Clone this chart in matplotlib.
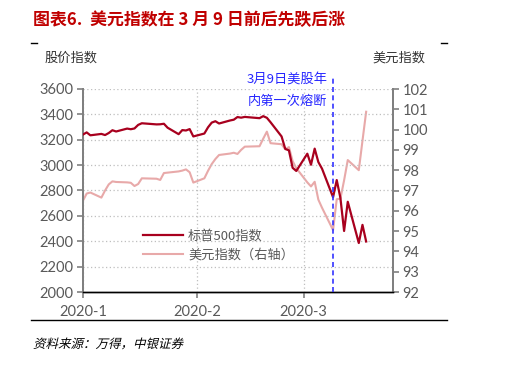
import matplotlib
matplotlib.use("Agg")
import matplotlib.pyplot as plt
import pandas as pd
from matplotlib.font_manager import FontProperties
from matplotlib.patches import PathPatch
from matplotlib.textpath import TextPath
from matplotlib.transforms import Affine2D

plt.rcParams['font.family'] = ['Lato', 'Noto Sans CJK SC', 'DejaVu Sans']

# trading days (Jan 1 carries the Dec 31 close)
dates = pd.to_datetime([
    '2020-01-01', '2020-01-02', '2020-01-03', '2020-01-06', '2020-01-07', '2020-01-08',
    '2020-01-09', '2020-01-10', '2020-01-13', '2020-01-14', '2020-01-15', '2020-01-16',
    '2020-01-17', '2020-01-21', '2020-01-22', '2020-01-23', '2020-01-24', '2020-01-27',
    '2020-01-28', '2020-01-29', '2020-01-30', '2020-01-31',
    '2020-02-03', '2020-02-04', '2020-02-05', '2020-02-06', '2020-02-07', '2020-02-10',
    '2020-02-11', '2020-02-12', '2020-02-13', '2020-02-14', '2020-02-18', '2020-02-19',
    '2020-02-20', '2020-02-21', '2020-02-24', '2020-02-25', '2020-02-26', '2020-02-27',
    '2020-02-28',
    '2020-03-02', '2020-03-03', '2020-03-04', '2020-03-05', '2020-03-06', '2020-03-09',
    '2020-03-10', '2020-03-11', '2020-03-12', '2020-03-13', '2020-03-16', '2020-03-17',
    '2020-03-18',
])

spx = [
    3241, 3258, 3235, 3246, 3237, 3253, 3275, 3265, 3288, 3283, 3289, 3317,
    3330, 3321, 3322, 3326, 3295, 3244, 3276, 3273, 3284, 3226,
    3249, 3298, 3335, 3346, 3328, 3352, 3358, 3379, 3374, 3380, 3370, 3386,
    3373, 3338, 3226, 3128, 3116, 2979, 2954,
    3090, 3003, 3130, 3024, 2972, 2747, 2882, 2741, 2481, 2711, 2386, 2529,
    2398,
]

dxy = [
    96.50, 96.85, 96.90, 96.65, 97.00, 97.30, 97.45, 97.42, 97.40, 97.38, 97.22, 97.32,
    97.60, 97.58, 97.52, 97.86, 97.88, 97.94, 97.98, 98.04, 97.90, 97.39,
    97.60, 97.97, 98.30, 98.55, 98.75, 98.82, 98.86, 98.80, 99.00, 99.16, 99.18, 99.55,
    99.90, 99.33, 99.28, 99.03, 99.14, 98.45, 98.10,
    97.40, 97.20, 97.43, 96.55, 96.15, 95.05, 96.57, 96.60, 97.50, 98.50, 98.00, 99.45,
    100.88,
]

month_ticks = pd.to_datetime(['2020-01-01', '2020-02-01', '2020-03-01'])
month_labels = ['2020-1', '2020-2', '2020-3']
breaker_day = pd.Timestamp('2020-03-09')

red = '#A8001E'
pink = '#E8A9A9'
grey = '#595959'
cjk = ['Noto Sans CJK SC', 'DejaVu Sans']
W, H, DPI = 519, 365, 100

fig = plt.figure(figsize=(W / DPI, H / DPI), dpi=DPI)
ax = fig.add_axes([83 / W, 73 / H, 310 / W, 203 / H])
ax2 = ax.twinx()

l1, = ax.plot(dates, spx, color=red, lw=1.6, zorder=3)
l2, = ax2.plot(dates, dxy, color=pink, lw=1.5, zorder=2)
ax.set_zorder(ax2.get_zorder() + 1)
ax.patch.set_visible(False)

ax.set_xlim(pd.Timestamp('2020-01-01'), pd.Timestamp('2020-01-01') + pd.Timedelta(days=84.3))
ax.set_ylim(2000, 3600)
ax.set_yticks(range(2000, 3601, 200))
ax2.set_ylim(92, 102)
ax2.set_yticks(range(92, 103))
ax.set_xticks(month_ticks)
ax.set_xticklabels(month_labels)

ax.grid(True, color='#BFBFBF', linestyle=(0, (1, 2)), linewidth=0.9)
ax.set_axisbelow(True)

for a in (ax, ax2):
    a.spines['top'].set_visible(False)
    a.spines['left'].set_color('#808080')
    a.spines['right'].set_color('#808080')
    a.spines['left'].set_linewidth(1.4)
    a.spines['right'].set_linewidth(1.4)
    a.spines['bottom'].set_color('#000000')
    a.spines['bottom'].set_linewidth(1.0)
    a.tick_params(labelsize=10.5, labelcolor=grey, color='#808080', length=4, width=1.2)
ax.tick_params(axis='x', pad=5)
ax.tick_params(axis='y', pad=3)
ax2.tick_params(axis='y', pad=3)

# circuit breaker marker
ax.plot([breaker_day, breaker_day], [0, 1.055], color='#3333FF', lw=1.2,
        linestyle=(0, (3, 2)), transform=ax.get_xaxis_transform(), clip_on=False, zorder=4)
fig.text(287 / W, 1 - 80 / H, '3月9日美股年', color='#2626FF', fontsize=9.5,
         ha='center', va='center', family=cjk)
fig.text(287 / W, 1 - 101 / H, '内第一次熔断', color='#2626FF', fontsize=9.5,
         ha='center', va='center', family=cjk)

leg = ax.legend([l1, l2], ['标普500指数', '美元指数（右轴）'], loc='upper left',
                bbox_to_anchor=(55 / 310, 68 / 203), frameon=False, handlelength=3.0,
                handletextpad=0.4, labelspacing=0.45, prop={'family': cjk, 'size': 9.5},
                borderaxespad=0)
for t in leg.get_texts():
    t.set_color(grey)

fig.text(45 / W, 1 - 58 / H, '股价指数', fontsize=9.5, color='#333333',
         ha='left', va='center', family=cjk)
fig.text(425 / W, 1 - 58 / H, '美元指数', fontsize=9.5, color='#333333',
         ha='right', va='center', family=cjk)

fig.text(33 / W, 1 - 20 / H, '图表6.  美元指数在 3 月 9 日前后先跌后涨', fontsize=12.2,
         fontweight='bold', color='#C00000', ha='left', va='center', family=cjk)

# header / footer rules
fig.add_artist(plt.Line2D([31 / W, 37 / W], [1 - 43 / H] * 2, color='black', lw=1))
fig.add_artist(plt.Line2D([441 / W, 447 / W], [1 - 43 / H] * 2, color='black', lw=1))
fig.add_artist(plt.Line2D([31 / W, 447 / W], [1 - 320 / H] * 2, color='black', lw=1))

# source note, slanted like the original italic
src = TextPath((0, 0), '资料来源：万得，中银证券', size=9,
               prop=FontProperties(family='Noto Sans CJK SC'))
slant = (Affine2D().skew_deg(14, 0).scale(DPI / 72)
         .translate(33, H - 348))
fig.add_artist(PathPatch(src, transform=slant, facecolor='black', edgecolor='none'))

fig.savefig('out.png', dpi=DPI)
